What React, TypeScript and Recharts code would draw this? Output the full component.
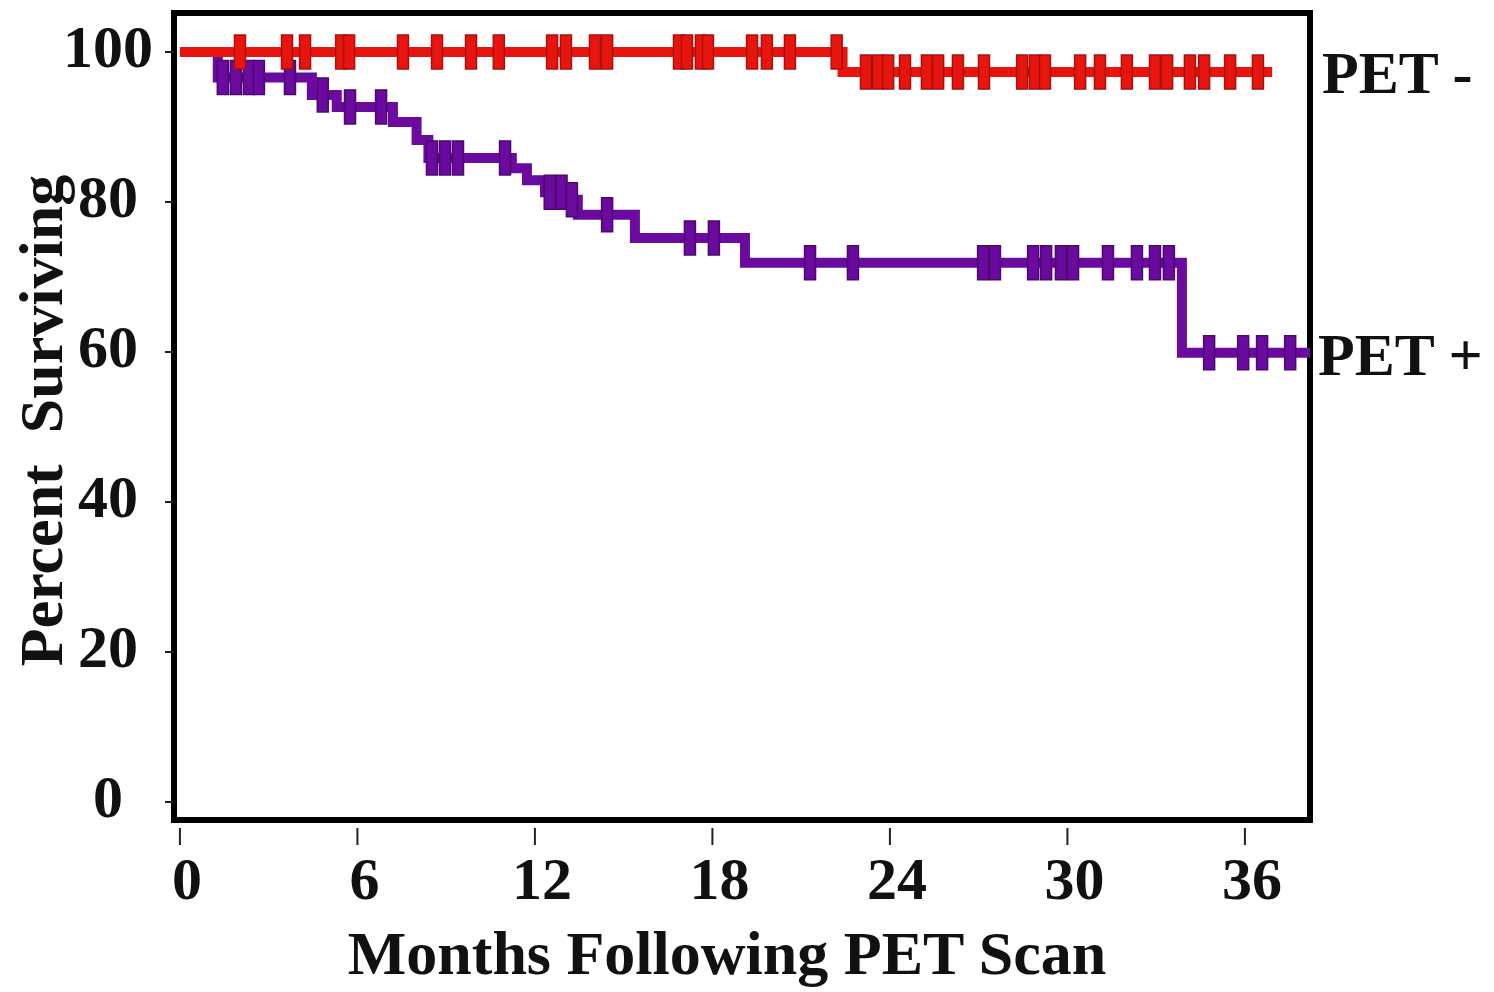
import React from 'react';
import { ComposedChart, Line, Scatter, XAxis, YAxis, ReferenceArea, ReferenceDot } from 'recharts';

const xTicks = [0, 6, 12, 18, 24, 30, 36];
const yTicks = [0, 20, 40, 60, 80, 100];

// PET negative: step curve (time in months, percent surviving)
const petNegSteps = [
  { t: 0, s: 100 },
  { t: 22.4, s: 97.33 },
  { t: 36.92, s: 97.33 },
];
const petNegCensored = [
  2.03, 3.62, 4.23, 5.45, 5.72, 7.54, 8.69, 9.84, 10.78, 12.58, 13.05, 14.03, 14.44,
  16.87, 17.14, 17.61, 17.85, 19.34, 19.84, 20.62, 22.2,
  23.19, 23.6, 23.94, 24.51, 25.25, 25.63, 26.3, 27.18, 28.47, 28.9, 29.24, 30.43,
  31.1, 32.01, 32.96, 33.37, 34.14, 34.62, 35.5, 36.44,
];

// PET positive
const petPosSteps = [
  { t: 0, s: 100 },
  { t: 1.28, s: 96.6 },
  { t: 4.46, s: 94.27 },
  { t: 5.3, s: 92.67 },
  { t: 7.2, s: 90.67 },
  { t: 8.0, s: 88.27 },
  { t: 8.4, s: 85.87 },
  { t: 11.22, s: 84.5 },
  { t: 11.73, s: 82.9 },
  { t: 12.34, s: 81.3 },
  { t: 12.95, s: 80.3 },
  { t: 13.45, s: 78.3 },
  { t: 15.38, s: 75.2 },
  { t: 19.1, s: 71.9 },
  { t: 33.87, s: 59.9 },
  { t: 38.2, s: 59.9 },
];
const petPosCensored = [
  1.45, 1.89, 2.33, 2.67, 3.72, 4.83, 5.75, 6.8, 8.52, 8.96, 9.4, 10.99, 12.5, 12.9,
  13.25, 14.44, 17.24, 18.05, 21.3, 22.75, 27.15, 27.55, 28.84, 29.28, 29.78, 30.19,
  31.37, 32.35, 32.96, 33.43, 34.79, 35.94, 36.58, 37.53,
];

const levelAt = (steps: { t: number; s: number }[], t: number) => {
  let s = steps[0].s;
  for (const p of steps) if (p.t <= t) s = p.s;
  return s;
};

const negMarks = petNegCensored.map((t) => ({ t, s: levelAt(petNegSteps, t) }));
const posMarks = petPosCensored.map((t) => ({ t, s: levelAt(petPosSteps, t) }));

const RED = '#e8140e';
const RED_EDGE = '#a8120e';
const PURPLE = '#6a0a9e';
const PURPLE_EDGE = '#4a0870';
const FONT = "'Liberation Serif', 'Times New Roman', serif";

const makeCensor = (fill: string, edge: string) => (props: any) => {
  const { cx, cy } = props;
  if (cx == null || cy == null) return <g />;
  return <rect x={cx - 5.5} y={cy - 17} width={11} height={34} fill={fill} stroke={edge} strokeWidth={1.5} />;
};

const XTick = (props: any) => {
  const { x, y, payload } = props;
  return (
    <g>
      <line x1={x} x2={x} y1={y + 8} y2={y + 25} stroke="#222" strokeWidth={2} />
      <text x={x + 7} y={y + 79} textAnchor="middle" fontFamily={FONT} fontSize={60} fontWeight="bold" fill="#111">
        {payload.value}
      </text>
    </g>
  );
};

const YTick = (props: any) => {
  const { x, y, payload } = props;
  return (
    <g>
      <line x1={x - 9} x2={x - 1} y1={y} y2={y} stroke="#222" strokeWidth={2} />
      <text x={x - 66} y={y + 15} textAnchor="middle" fontFamily={FONT} fontSize={60} fontWeight="bold" fill="#111">
        {payload.value}
      </text>
    </g>
  );
};

const XTitle = (props: any) => {
  const vb = props.viewBox || { x: 0, y: 0, width: 0, height: 0 };
  return (
    <text x={vb.x + vb.width / 2 - 15} y={vb.y + 154} textAnchor="middle" fontFamily={FONT} fontSize={62} fontWeight="bold" fill="#111">
      Months Following PET Scan
    </text>
  );
};

const YTitle = (props: any) => {
  const vb = props.viewBox || { x: 0, y: 0, width: 0, height: 0 };
  const cx = vb.x + 54;
  const cy = vb.y + vb.height / 2 + 4;
  return (
    <text
      x={cx}
      y={cy}
      transform={`rotate(-90, ${cx}, ${cy})`}
      textAnchor="middle"
      fontFamily={FONT}
      fontSize={62}
      fontWeight="bold"
      fill="#111"
      style={{ whiteSpace: 'pre' }}
    >
      {'Percent  Surviving'}
    </text>
  );
};

const makeEndLabel = (text: string, dx: number, dy: number) => (props: any) => {
  const vb = props.viewBox || { x: 0, y: 0 };
  return (
    <text x={vb.x + dx} y={vb.y + dy} textAnchor="start" fontFamily={FONT} fontSize={60} fontWeight="bold" fill="#111">
      {text}
    </text>
  );
};

export default function App() {
  return (
    <div style={{ width: 1478, height: 984, background: '#fff' }}>
      <ComposedChart width={1478} height={984} margin={{ top: 5, right: 176, bottom: 0, left: 0 }}>
        <XAxis
          dataKey="t"
          type="number"
          domain={[-0.2, 38.2]}
          ticks={xTicks}
          interval={0}
          allowDataOverflow
          axisLine={false}
          tickLine={false}
          tickSize={0}
          tickMargin={0}
          height={172}
          tick={<XTick />}
          label={{ value: 'Months Following PET Scan', content: XTitle }}
        />
        <YAxis
          type="number"
          domain={[-2.4, 105.2]}
          ticks={yTicks}
          interval={0}
          allowDataOverflow
          axisLine={false}
          tickLine={false}
          tickSize={0}
          tickMargin={0}
          width={166}
          tick={<YTick />}
          label={{ value: 'Percent Surviving', content: YTitle }}
        />
        <ReferenceArea
          x1={-0.2}
          x2={38.2}
          y1={-2.4}
          y2={105.2}
          fill="none"
          fillOpacity={0}
          stroke="#000"
          strokeWidth={6}
          ifOverflow="visible"
        />
        <Line
          data={petPosSteps}
          dataKey="s"
          type="stepAfter"
          stroke={PURPLE}
          strokeWidth={10}
          dot={false}
          activeDot={false}
          isAnimationActive={false}
        />
        <Scatter data={posMarks} dataKey="s" shape={makeCensor(PURPLE, PURPLE_EDGE)} isAnimationActive={false} />
        <Line
          data={petNegSteps}
          dataKey="s"
          type="stepAfter"
          stroke={RED}
          strokeWidth={10}
          dot={false}
          activeDot={false}
          isAnimationActive={false}
        />
        <Scatter data={negMarks} dataKey="s" shape={makeCensor(RED, RED_EDGE)} isAnimationActive={false} />
        <ReferenceDot
          x={38.2}
          y={97.33}
          r={0}
          fill="none"
          stroke="none"
          ifOverflow="visible"
          label={{ value: 'PET -', content: makeEndLabel('PET -', 12, 21) }}
        />
        <ReferenceDot
          x={38.2}
          y={59.9}
          r={0}
          fill="none"
          stroke="none"
          ifOverflow="visible"
          label={{ value: 'PET +', content: makeEndLabel('PET +', 8, 22) }}
        />
      </ComposedChart>
    </div>
  );
}
